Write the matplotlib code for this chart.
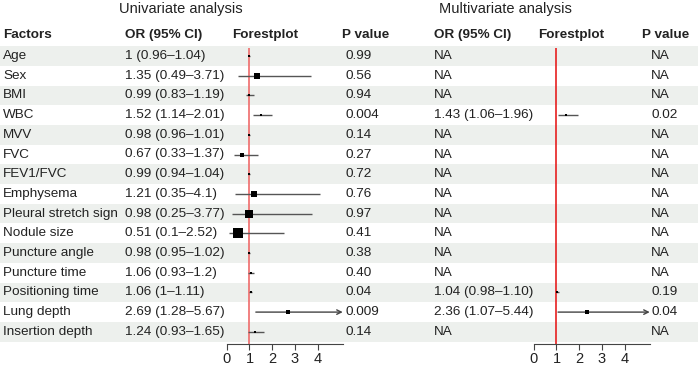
#!/usr/bin/env python3
# -*- coding: utf-8 -*-

# Forest plot : univariate / multivariate analysis

import matplotlib
matplotlib.use('Agg')
import matplotlib.pyplot as plt
import numpy as np
import matplotlib as mpl

mpl.rcParams['font.family'] = ['Liberation Sans', 'DejaVu Sans']
mpl.rcParams['font.size'] = 9.7

# Data
factors = ['Age', 'Sex', 'BMI', 'WBC', 'MVV', 'FVC', 'FEV1/FVC', 'Emphysema',
           'Pleural stretch sign', 'Nodule size', 'Puncture angle', 'Puncture time',
           'Positioning time', 'Lung depth', 'Insertion depth']

uni_or = [1, 1.35, 0.99, 1.52, 0.98, 0.67, 0.99, 1.21, 0.98, 0.51, 0.98, 1.06, 1.06, 2.69, 1.24]
uni_lo = [0.96, 0.49, 0.83, 1.14, 0.96, 0.33, 0.94, 0.35, 0.25, 0.1, 0.95, 0.93, 1, 1.28, 0.93]
uni_hi = [1.04, 3.71, 1.19, 2.01, 1.01, 1.37, 1.04, 4.1, 3.77, 2.52, 1.02, 1.2, 1.11, 5.67, 1.65]
uni_p = ['0.99', '0.56', '0.94', '0.004', '0.14', '0.27', '0.72', '0.76', '0.97', '0.41',
         '0.38', '0.40', '0.04', '0.009', '0.14']

nan = np.nan
multi_or = [nan, nan, nan, 1.43, nan, nan, nan, nan, nan, nan, nan, nan, 1.04, 2.36, nan]
multi_lo = [nan, nan, nan, 1.06, nan, nan, nan, nan, nan, nan, nan, nan, 0.98, 1.07, nan]
multi_hi = [nan, nan, nan, 1.96, nan, nan, nan, nan, nan, nan, nan, nan, 1.10, 5.44, nan]
multi_p = ['NA', 'NA', 'NA', '0.02', 'NA', 'NA', 'NA', 'NA', 'NA', 'NA', 'NA', 'NA',
           '0.19', '0.04', 'NA']

# box sizes (px) as drawn in the original
uni_box = [1.5, 5, 1.5, 1.5, 1.5, 4, 1.5, 6.7, 8.3, 9, 1.5, 1.5, 1.5, 3.7, 1.5]
multi_box = [0, 0, 0, 1.5, 0, 0, 0, 0, 0, 0, 0, 0, 1.5, 3.7, 0]

W, H = 698, 368
TXT = '#222222'
STRIPE = '#edf0ed'
XMAX = 5.1
SCALE = 22.75  # px per unit
Y_TOP, Y_AX = 48, 343.5


def fmt_ci(o, l, h, f):
    return '%s (%s\u2013%s)' % (f(o), f(l), f(h))


def forest(fig, left_px, rows, est, lo, hi, box, red):
    ax = fig.add_axes([left_px / W, (H - Y_AX) / H, XMAX * SCALE / W, (Y_AX - Y_TOP) / H])
    ax.set_xlim(0, XMAX)
    ax.set_ylim(Y_AX, Y_TOP)
    ax.patch.set_visible(False)
    for s in ['top', 'left', 'right']:
        ax.spines[s].set_visible(False)
    ax.spines['bottom'].set_color('#444444')
    ax.spines['bottom'].set_linewidth(0.8)
    ax.set_xticks([0, 1, 2, 3, 4])
    ax.set_yticks([])
    ax.tick_params(axis='x', direction='out', length=4, width=0.8, color='#444444',
                   labelsize=10.5, labelcolor=TXT, pad=2)
    ax.axvline(1, color=red, lw=1.2, zorder=1)
    for y, e, l, h, b in zip(rows, est, lo, hi, box):
        if np.isnan(e):
            continue
        if h > XMAX:
            ax.annotate('', xy=(XMAX, y), xytext=(l, y),
                        arrowprops=dict(arrowstyle='->', color='#444444', lw=1,
                                        mutation_scale=8, shrinkA=0, shrinkB=0),
                        annotation_clip=False)
        else:
            ax.hlines(y, l, h, color='#555555', lw=1, zorder=2)
        ax.scatter([e], [y], marker='s', s=(b * 0.75) ** 2, color='black',
                   linewidths=0, zorder=3)
    return ax


# Programme principal
if __name__ == "__main__":

    fig = plt.figure(figsize=(W / 100, H / 100), dpi=100)
    ax = fig.add_axes([0, 0, 1, 1])
    ax.set_xlim(0, W)
    ax.set_ylim(H, 0)
    ax.axis('off')

    dy = 19.7
    rows = 56 + np.arange(len(factors)) * dy

    for i, y in enumerate(rows):
        if i % 2 == 0:
            ax.axhspan(y - dy / 2, y + dy / 2, color=STRIPE, lw=0, zorder=0)

    # titles and headers
    ax.text(181, 9, 'Univariate analysis', ha='center', va='center', color=TXT, fontsize=10.5)
    ax.text(505, 9, 'Multivariate analysis', ha='center', va='center', color=TXT, fontsize=10.5)
    for x, s in [(3, 'Factors'), (125, 'OR (95% CI)'), (232, 'Forestplot'), (342, 'P value'),
                 (434, 'OR (95% CI)'), (538, 'Forestplot'), (642, 'P value')]:
        ax.text(x, 35, s, ha='left', va='center', fontweight='bold', color=TXT)

    for i, y in enumerate(rows):
        ax.text(3, y, factors[i], ha='left', va='center', color=TXT)
        ax.text(125, y, fmt_ci(uni_or[i], uni_lo[i], uni_hi[i], lambda v: '%g' % v),
                ha='left', va='center', color=TXT)
        ax.text(345, y, uni_p[i], ha='left', va='center', color=TXT)
        if np.isnan(multi_or[i]):
            s = 'NA'
        else:
            s = fmt_ci(multi_or[i], multi_lo[i], multi_hi[i], lambda v: '%.2f' % v)
        ax.text(434, y, s, ha='left', va='center', color=TXT)
        ax.text(651, y, multi_p[i], ha='left', va='center', color=TXT)

    forest(fig, 226.7, rows, uni_or, uni_lo, uni_hi, uni_box, '#ef6b6b')
    forest(fig, 533.7, rows, multi_or, multi_lo, multi_hi, multi_box, '#e62020')

    fig.savefig('out.png', dpi=100)
